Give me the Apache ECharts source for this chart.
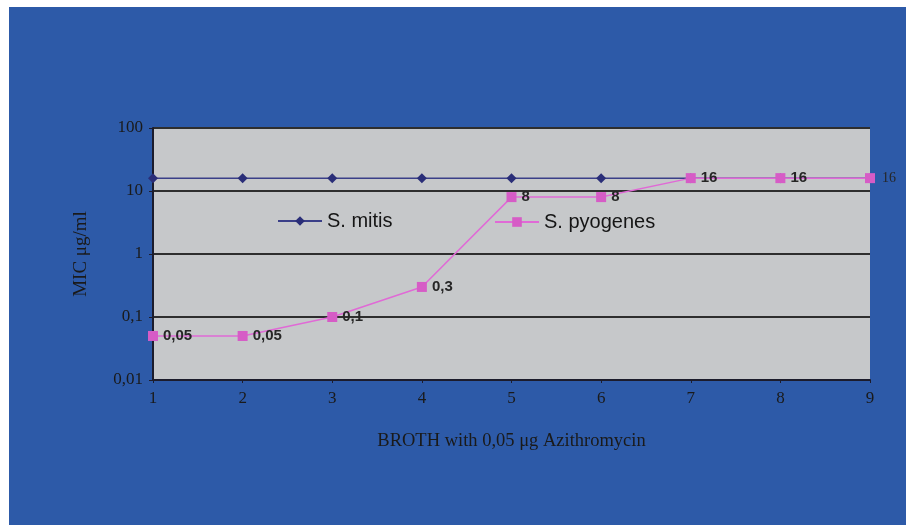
<!DOCTYPE html>
<html>
<head>
<meta charset="utf-8">
<script src="https://cdn.jsdelivr.net/npm/echarts@6/dist/echarts.min.js"></script>
<style>
  html, body { margin: 0; padding: 0; background: #fff; }
  #chart { position: absolute; left: 9px; top: 7px; width: 897px; height: 518px; }
</style>
</head>
<body>
<div id="chart"></div>
<script>
const categories = ["1", "2", "3", "4", "5", "6", "7", "8", "9"];
const mitis = [16, 16, 16, 16, 16, 16, 16, 16, 16];
const pyogenes = [0.05, 0.05, 0.1, 0.3, 8, 8, 16, 16, 16];

const comma = (v) => String(Number(Number(v).toPrecision(3))).replace(".", ",");
const serif = "Liberation Serif";
const sans = "Liberation Sans";

const chart = echarts.init(document.getElementById("chart"));

chart.setOption({
  backgroundColor: "#2d5aa8",
  animation: false,
  grid: {
    left: 144, right: 36, top: 121, bottom: 145,
    show: true, backgroundColor: "#c6c8ca", borderWidth: 0,
  },
  legend: [
    {
      data: ["S. mitis"], left: 268, top: 204, padding: 0,
      itemWidth: 44, itemHeight: 12,
      textStyle: { fontFamily: sans, fontSize: 20, color: "#151515" },
    },
    {
      data: ["S. pyogenes"], left: 485, top: 205, padding: 0,
      itemWidth: 44, itemHeight: 12,
      textStyle: { fontFamily: sans, fontSize: 20, color: "#151515" },
    },
  ],
  xAxis: {
    type: "category",
    data: categories,
    boundaryGap: false,
    name: "BROTH with 0,05 μg Azithromycin",
    nameLocation: "middle",
    nameGap: 52,
    nameTextStyle: { fontFamily: serif, fontSize: 18.5, color: "#1a1a1a" },
    axisLine: { lineStyle: { color: "#1c1c2c", width: 2 } },
    axisTick: { alignWithLabel: true, length: 3, lineStyle: { color: "#1c1c2c" } },
    axisLabel: { fontFamily: serif, fontSize: 17, color: "#1a1a1a", margin: 10 },
    splitLine: { show: false },
  },
  yAxis: {
    type: "log",
    logBase: 10,
    min: 0.01,
    max: 100,
    name: "MIC μg/ml",
    nameLocation: "middle",
    nameGap: 62,
    nameRotate: 90,
    nameTextStyle: { fontFamily: serif, fontSize: 19, color: "#1a1a1a" },
    axisLine: { show: true, lineStyle: { color: "#1c1c2c", width: 2 } },
    axisTick: { show: true, length: 4, lineStyle: { color: "#1c1c2c" } },
    axisLabel: { fontFamily: serif, fontSize: 17, color: "#1a1a1a", margin: 10, formatter: comma },
    splitLine: { show: true, lineStyle: { color: "#2e2e2e", width: 2 } },
  },
  series: [
    {
      name: "S. mitis",
      type: "line",
      data: mitis,
      symbol: "diamond",
      symbolSize: 10,
      itemStyle: { color: "#2a2e78" },
      lineStyle: { color: "#3a3f88", width: 1.5 },
      z: 2,
    },
    {
      name: "S. pyogenes",
      type: "line",
      data: pyogenes.map((v, i) => i === pyogenes.length - 1
        ? { value: v, label: { fontFamily: serif, fontWeight: "normal", fontSize: 14, offset: [2, 0] } }
        : v),
      symbol: "rect",
      symbolSize: 10,
      itemStyle: { color: "#d65cc6" },
      lineStyle: { color: "#e06ad6", width: 1.5 },
      label: {
        show: true,
        position: "right",
        distance: 5,
        fontFamily: sans,
        fontWeight: "bold",
        fontSize: 15,
        color: "#262626",
        formatter: (p) => comma(p.value),
      },
      z: 3,
    },
  ],
});
</script>
</body>
</html>
